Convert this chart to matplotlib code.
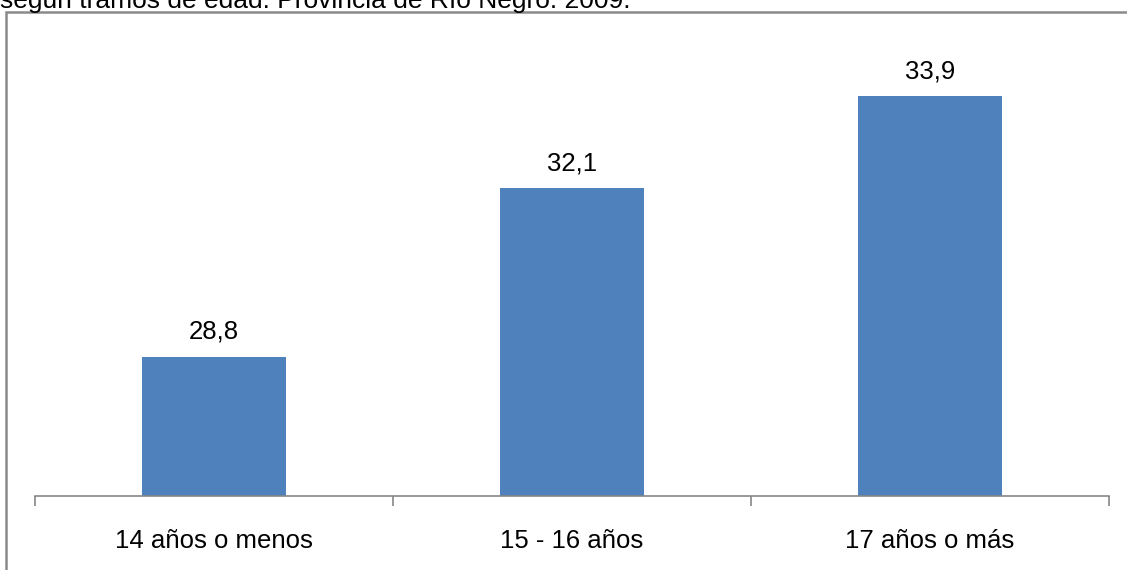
import matplotlib
matplotlib.use("Agg")
import matplotlib.pyplot as plt
from matplotlib.patches import Rectangle

categorias = ["14 años o menos", "15 - 16 años", "17 años o más"]
valores = [28.8, 32.1, 33.9]
titulo = "según tramos de edad. Provincia de Río Negro. 2009."

plt.rcParams["font.family"] = ["Liberation Sans", "DejaVu Sans"]

W, H = 1127, 570
fig = plt.figure(figsize=(W / 100, H / 100), dpi=100)

# axes: x from 35 to 1109 px, y from 30 to 496 px
ax = fig.add_axes([35 / W, 1 - 496 / H, (1109 - 35) / W, (496 - 30) / H])
x = range(len(categorias))
ax.bar(x, valores, width=0.4, color="#4f81bd", zorder=2)
ax.set_xlim(-0.5, 2.5)
ax.set_ylim(26.07, 35.2)

for xi, v in zip(x, valores):
    ax.annotate(f"{v:.1f}".replace(".", ","), (xi, v), xytext=(0, 9.5),
                textcoords="offset points", ha="center", va="bottom", fontsize=18.5)

for s in ["top", "right", "left"]:
    ax.spines[s].set_visible(False)
ax.spines["bottom"].set_color("#868686")
ax.spines["bottom"].set_linewidth(1.2)
ax.set_yticks([])
ax.set_xticks([-0.5, 0.5, 1.5, 2.5])
ax.set_xticklabels([])
ax.set_xticks(list(x), minor=True)
ax.set_xticklabels(categorias, minor=True, fontsize=18.5)
ax.tick_params(axis="x", which="major", length=7, color="#868686", width=1.2)
ax.tick_params(axis="x", which="minor", length=0, pad=24)

# outer frame of the chart area
fig.patches.append(Rectangle((6 / W, -0.1), 1.2, 1 - 12 / H + 0.1,
                             transform=fig.transFigure, fill=False,
                             edgecolor="#8a8a8a", linewidth=1.8))
fig.text(0, 1 - 8 / H, titulo, fontsize=19, ha="left", va="baseline")

fig.savefig("out.png", dpi=100)
